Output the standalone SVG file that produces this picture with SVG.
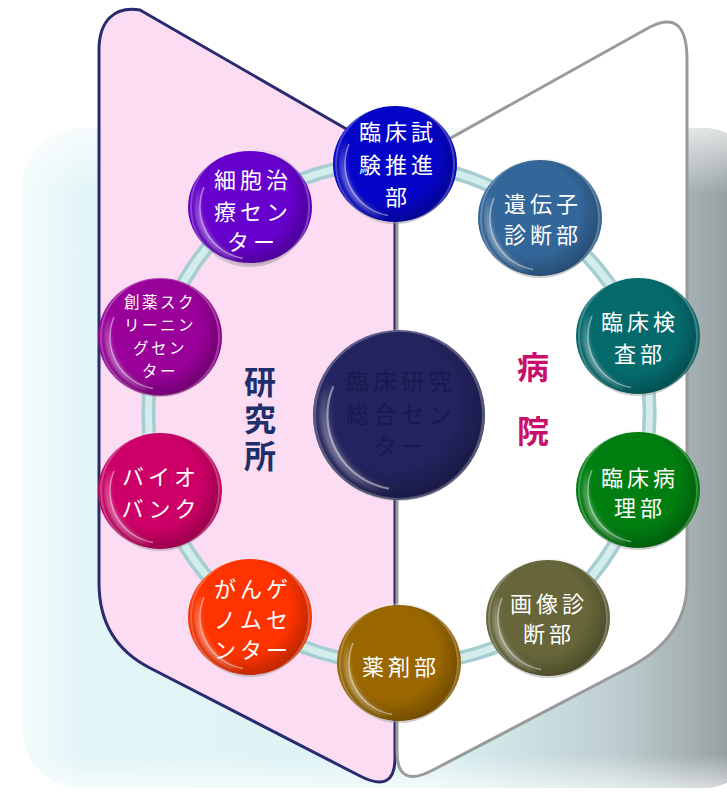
<svg xmlns="http://www.w3.org/2000/svg" xmlns:xlink="http://www.w3.org/1999/xlink" width="727" height="800" viewBox="0 0 727 800">
<style>
.nt{font-family:"Noto Sans CJK JP","Noto Sans CJK SC",sans-serif;fill:#fff;font-size:22px;letter-spacing:4px;text-anchor:middle;dominant-baseline:central}
.sm{font-size:15.5px;letter-spacing:2.5px}
.big{font-size:23px;letter-spacing:4.5px;fill:#19194f}
.lbl{font-family:"Noto Sans CJK JP","Noto Sans CJK SC",sans-serif;font-size:32px;font-weight:bold;text-anchor:middle;writing-mode:vertical-rl}
.tube1{fill:none;stroke:#a6cdd1;stroke-width:14}
.tube2{fill:none;stroke:#d3ecec;stroke-width:7}
</style>
<defs>
<linearGradient id="bg" x1="0" y1="0" x2="1" y2="0">
<stop offset="0" stop-color="#f4fbfc"/>
<stop offset="0.08" stop-color="#e3f5f7"/>
<stop offset="0.55" stop-color="#dcf2f4"/>
<stop offset="0.8" stop-color="#bfcfd1"/>
<stop offset="0.93" stop-color="#9ea8aa"/>
<stop offset="1" stop-color="#878f91"/>
</linearGradient>
<linearGradient id="bgv" x1="0" y1="0" x2="0" y2="1">
<stop offset="0" stop-color="#fff" stop-opacity="0.7"/>
<stop offset="0.1" stop-color="#fff" stop-opacity="0"/>
<stop offset="0.95" stop-color="#fff" stop-opacity="0"/>
<stop offset="1" stop-color="#fff" stop-opacity="0.6"/>
</linearGradient>
<radialGradient id="shade" cx="0.45" cy="0.42" r="0.6">
<stop offset="0.65" stop-color="#000" stop-opacity="0"/>
<stop offset="1" stop-color="#000" stop-opacity="0.28"/>
</radialGradient>
<filter id="blur" x="-20%" y="-20%" width="140%" height="140%"><feGaussianBlur stdDeviation="2.5"/></filter>
<g id="gloss">
<circle r="60" fill="url(#shade)"/>
<path d="M-9.4,53.2 A54 54 0 0 1 -48.9,-22.8 A62 62 0 0 0 -9.4,53.2Z" fill="#fff" fill-opacity="0.6" filter="url(#blur)"/>
<path d="M-7,51.5 A52 52 0 0 1 -46,-20" fill="none" stroke="#fff" stroke-opacity="0.45" stroke-width="1.5"/>
<circle r="59" fill="none" stroke="#fff" stroke-opacity="0.25" stroke-width="2"/>
</g>
</defs>

<g id="backdrop">
<rect x="22" y="128" width="740" height="660" rx="60" fill="url(#bg)"/>
<rect x="22" y="128" width="740" height="660" rx="60" fill="url(#bgv)"/>
</g>

<g id="research-area">
<path d="M99,50 C99,20 115,6 140,10 L395,157 L395,758 Q395,794 360,776 L150,668 Q99,642 99,583 Z" fill="#fbdcf2" stroke="#2a2a6e" stroke-width="3" stroke-linejoin="round"/>
</g>
<g id="hospital-area">
<path d="M397,168 L650,27 Q687,8 687,60 L687,583 Q687,637 630,667 L433,770 Q397,789 397,752 Z" fill="#fff" stroke="#9a9a9a" stroke-width="3" stroke-linejoin="round"/>
</g>

<g id="labels">
<text class="lbl" x="260" y="421" fill="#1e2f6a" letter-spacing="5">研究所</text>
<text class="lbl" x="533" y="415" fill="#c8106a" letter-spacing="32">病院</text>
</g>

<g id="connectors">
<g class="tube1">
<path d="M395,164 A240 250 0 0 1 540,218"/>
<path d="M540,218 A240 250 0 0 1 638,336"/>
<path d="M638,336 A240 250 0 0 1 638,490"/>
<path d="M638,490 A240 250 0 0 1 548,618"/>
<path d="M548,618 A240 250 0 0 1 399,663"/>
<path d="M399,663 A240 250 0 0 1 250,617"/>
<path d="M250,617 A240 250 0 0 1 160,491"/>
<path d="M160,491 A240 250 0 0 1 160,337"/>
<path d="M160,337 A240 250 0 0 1 250,207"/>
<path d="M250,207 A240 250 0 0 1 395,164"/>
</g>
<g class="tube2">
<path d="M395,164 A240 250 0 0 1 540,218"/>
<path d="M540,218 A240 250 0 0 1 638,336"/>
<path d="M638,336 A240 250 0 0 1 638,490"/>
<path d="M638,490 A240 250 0 0 1 548,618"/>
<path d="M548,618 A240 250 0 0 1 399,663"/>
<path d="M399,663 A240 250 0 0 1 250,617"/>
<path d="M250,617 A240 250 0 0 1 160,491"/>
<path d="M160,491 A240 250 0 0 1 160,337"/>
<path d="M160,337 A240 250 0 0 1 250,207"/>
<path d="M250,207 A240 250 0 0 1 395,164"/>
</g>
</g>

<g id="center" transform="translate(399,415)">
<ellipse rx="86" ry="85" fill="#23235f"/>
<use href="#gloss" transform="scale(1.43)"/>
<text class="nt big"><tspan x="2" y="-35">臨床研究</tspan><tspan x="2" y="-2">総合セン</tspan><tspan x="2" y="30">ター</tspan></text>
</g>

<g id="n-chiken" transform="translate(395,164)">
<ellipse rx="62" ry="58" fill="#0505c8"/>
<use href="#gloss"/>
<text class="nt"><tspan x="3" y="-34">臨床試</tspan><tspan x="3" y="-1">験推進</tspan><tspan x="3" y="31">部</tspan></text>
</g>

<g id="n-iden" transform="translate(540,218)">
<ellipse rx="62" ry="58" fill="#336699"/>
<use href="#gloss"/>
<text class="nt"><tspan x="3" y="-16">遺伝子</tspan><tspan x="3" y="15">診断部</tspan></text>
</g>

<g id="n-kensa" transform="translate(638,336)">
<ellipse rx="62" ry="58" fill="#046a6c"/>
<use href="#gloss"/>
<text class="nt"><tspan x="2" y="-16">臨床検</tspan><tspan x="2" y="16">査部</tspan></text>
</g>

<g id="n-byori" transform="translate(638,490)">
<ellipse rx="62" ry="58" fill="#007e10"/>
<use href="#gloss"/>
<text class="nt"><tspan x="2" y="-14">臨床病</tspan><tspan x="2" y="16">理部</tspan></text>
</g>

<g id="n-gazo" transform="translate(548,618)">
<ellipse rx="62" ry="58" fill="#66663a"/>
<use href="#gloss"/>
<text class="nt"><tspan x="1" y="-16">画像診</tspan><tspan x="1" y="14">断部</tspan></text>
</g>

<g id="n-yakuzai" transform="translate(399,663)">
<ellipse rx="62" ry="58" fill="#996600"/>
<use href="#gloss"/>
<text class="nt" x="2" y="2">薬剤部</text>
</g>

<g id="n-genome" transform="translate(250,617)">
<ellipse rx="62" ry="58" fill="#ff3300"/>
<use href="#gloss"/>
<text class="nt"><tspan x="3" y="-30">がんゲ</tspan><tspan x="3" y="1">ノムセ</tspan><tspan x="3" y="31">ンター</tspan></text>
</g>

<g id="n-biobank" transform="translate(160,491)">
<ellipse rx="62" ry="58" fill="#cc0066"/>
<use href="#gloss"/>
<text class="nt"><tspan x="1" y="-16">バイオ</tspan><tspan x="1" y="16">バンク</tspan></text>
</g>

<g id="n-soyaku" transform="translate(160,337)">
<ellipse rx="62" ry="59" fill="#990099"/>
<use href="#gloss"/>
<text class="nt sm"><tspan x="0" y="-36">創薬スク</tspan><tspan x="0" y="-13">リーニン</tspan><tspan x="0" y="10">グセン</tspan><tspan x="0" y="33">ター</tspan></text>
</g>

<g id="n-saibo" transform="translate(250,207)">
<ellipse rx="62" ry="56" fill="#6600cc"/>
<use href="#gloss"/>
<text class="nt"><tspan x="3" y="-29">細胞治</tspan><tspan x="3" y="3">療セン</tspan><tspan x="3" y="33">ター</tspan></text>
</g>
</svg>
